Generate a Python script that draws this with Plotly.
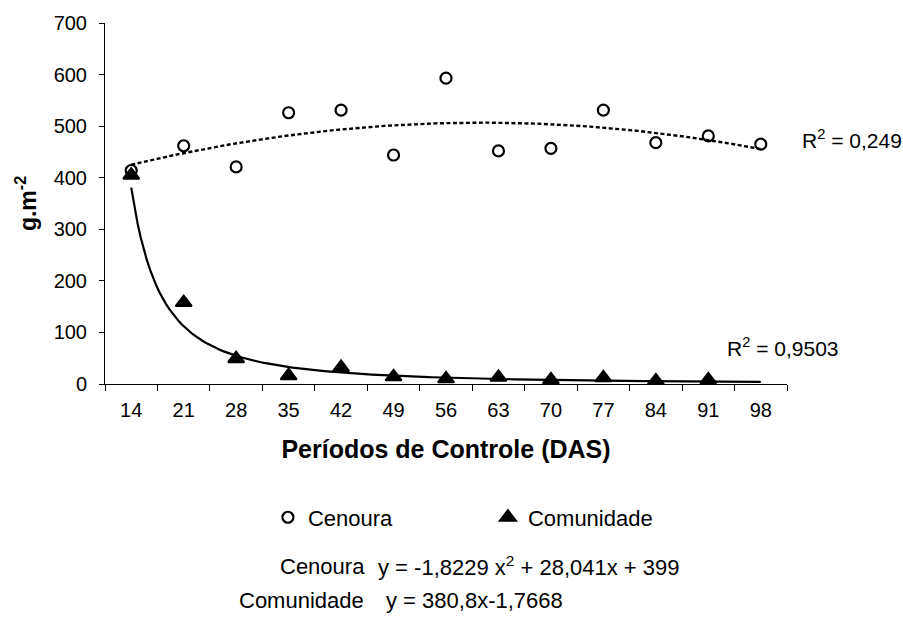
import numpy as np
import plotly.graph_objects as go

# ---- data ----
periods = ["14", "21", "28", "35", "42", "49", "56", "63", "70", "77", "84", "91", "98"]
cenoura = [414, 462, 421, 526, 531, 444, 593, 452, 457, 531, 468, 481, 465]
comunidade = [405, 158, 49, 16, 32, 14, 10, 13, 8, 12, 6, 8, None]

# trend-line coefficients as printed on the chart (x = period index 1..13)
cen_a, cen_b, cen_c = -1.8229, 28.041, 399.0
com_k, com_p = 380.8, -1.7668
r2_cenoura = "0,249"
r2_comunidade = "0,9503"

FONT = "Liberation Sans, Arial, sans-serif"

xpos = np.arange(len(periods))
xt = np.linspace(0, len(periods) - 1, 200)
xi = xt + 1
cen_trend = cen_a * xi ** 2 + cen_b * xi + cen_c
com_trend = com_k * xi ** com_p

fig = go.Figure()
fig.add_trace(go.Scatter(x=xt, y=cen_trend, mode="lines", showlegend=False,
                         line=dict(color="black", width=2.4, dash="4px,2.5px"), hoverinfo="skip"))
fig.add_trace(go.Scatter(x=xt, y=com_trend, mode="lines", showlegend=False,
                         line=dict(color="black", width=2.2), hoverinfo="skip"))
fig.add_trace(go.Scatter(x=xpos, y=cenoura, mode="markers", name="Cenoura",
                         marker=dict(symbol="circle-open", size=11, color="black",
                                     line=dict(width=2.2, color="black"))))
fig.add_trace(go.Scatter(x=xpos, y=comunidade, mode="markers", name="Comunidade",
                         marker=dict(symbol="triangle-up", size=14, color="black",
                                     line=dict(width=2, color="black"))))

L, R, T, B = 105, 903 - 787.3, 22.6, 621 - 384.3
pw, ph = 903 - L - R, 621 - T - B


def px(xp):
    return (xp - L) / pw


def py(yp):
    return (621 - B - yp) / ph


fig.update_layout(
    width=903, height=621,
    margin=dict(l=L, r=R, t=T, b=B, pad=0),
    paper_bgcolor="white", plot_bgcolor="white",
    font=dict(family=FONT, color="black", size=20),
    showlegend=True,
    legend=dict(orientation="h", x=px(268), y=py(518), xanchor="left", yanchor="middle",
                font=dict(size=22), entrywidth=175, entrywidthmode="pixels",
                bgcolor="rgba(0,0,0,0)"),
)
fig.update_xaxes(
    range=[-0.5, len(periods) - 0.5], tickmode="array", tickvals=xpos, ticktext=periods,
    ticks="", showline=True, linecolor="black", linewidth=1, showgrid=False, zeroline=False,
    tickfont=dict(size=20), ticklabelstandoff=8,
    minor=dict(tickmode="array", tickvals=list(np.arange(-0.5, len(periods), 1.0)),
               ticks="outside", ticklen=6, tickcolor="black", tickwidth=1, showgrid=False),
    title=dict(text="<b>Períodos de Controle (DAS)</b>", font=dict(size=25), standoff=20),
)
fig.update_yaxes(
    range=[0, 700], tickmode="linear", tick0=0, dtick=100,
    ticks="outside", ticklen=5, tickcolor="black", showline=True, linecolor="black", linewidth=1,
    showgrid=False, zeroline=False, tickfont=dict(size=20), ticklabelstandoff=8,
    title=dict(text="<b>g.m<sup>-2</sup></b>", font=dict(size=23), standoff=10),
)

ann = [
    dict(text="R<sup>2</sup> = " + r2_cenoura, x=px(800), y=py(139), xanchor="left", yanchor="middle", size=21),
    dict(text="R<sup>2</sup> = " + r2_comunidade, x=px(725), y=py(347), xanchor="left", yanchor="middle", size=21),
    dict(text="Cenoura", x=px(367), y=py(567), xanchor="right", yanchor="middle", size=22),
    dict(text="y = -1,8229 x<sup>2</sup> + 28,041x + 399", x=px(376), y=py(567), xanchor="left", yanchor="middle", size=22),
    dict(text="Comunidade", x=px(366), y=py(601), xanchor="right", yanchor="middle", size=22),
    dict(text="y = 380,8x-1,7668", x=px(384), y=py(601), xanchor="left", yanchor="middle", size=22),
]
for a in ann:
    fig.add_annotation(text=a["text"], x=a["x"], y=a["y"], xref="paper", yref="paper",
                       xanchor=a["xanchor"], yanchor=a["yanchor"], showarrow=False,
                       font=dict(size=a["size"], family=FONT, color="black"))

fig.write_html("out.html")
